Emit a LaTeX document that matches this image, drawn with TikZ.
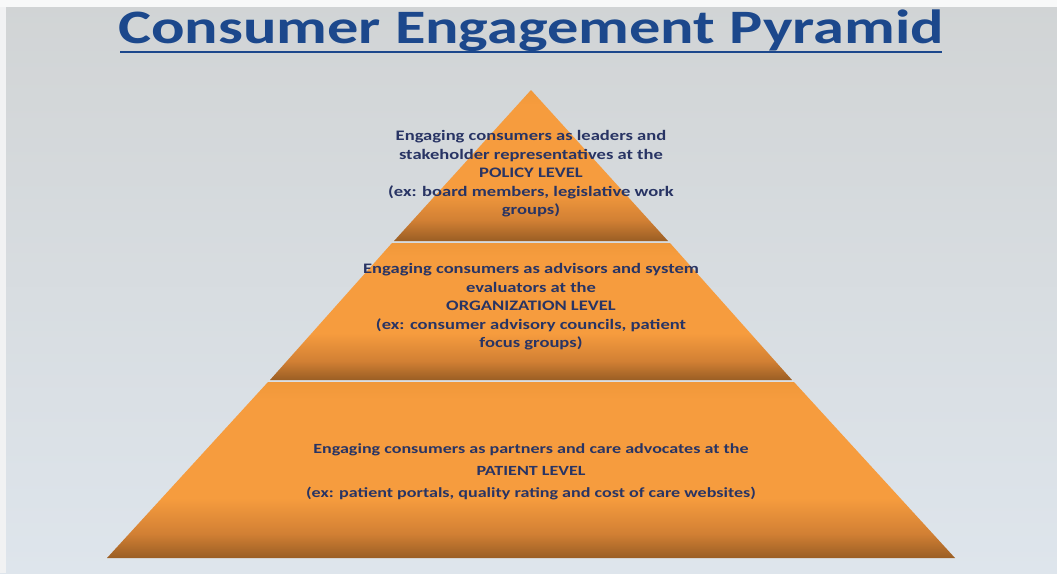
\documentclass[tikz,border=0pt]{standalone}
\usepackage{fontspec}
\setmainfont{Carlito}
\usetikzlibrary{shadings}
\definecolor{bgtop}{RGB}{209,212,213}
\definecolor{bgbot}{RGB}{222,229,236}
\definecolor{titleblue}{RGB}{28,72,140}
\definecolor{textnavy}{RGB}{40,52,100}
\definecolor{tierlight}{RGB}{246,156,62}
\definecolor{tiertop}{RGB}{240,152,58}
\definecolor{tiermid}{RGB}{210,128,52}
\definecolor{tierdark}{RGB}{154,94,36}
\pgfdeclareverticalshading{tiershade}{100bp}{color(0bp)=(tierdark); color(25bp)=(tierdark); color(32bp)=(tiermid); color(42bp)=(tierlight); color(70bp)=(tierlight); color(75bp)=(tiertop); color(100bp)=(tiertop)}
\tikzset{
  tier/.style={shading=tiershade},
  tiertext/.style={text=textnavy, align=center, font=\fontsize{14.5}{18.5}\selectfont\bfseries, inner sep=0pt, xscale=1.28},
  basetext/.style={text=textnavy, align=center, font=\fontsize{14}{22}\selectfont\bfseries, inner sep=0pt, xscale=1.29},
}
\begin{document}
\begin{tikzpicture}[x=1pt,y=-1pt]
\useasboundingbox (0,0) rectangle (1057,573);
\shade[top color=bgtop, bottom color=bgbot] (0,0) rectangle (1057,573);
\fill[white!85!bgtop] (0,0) rectangle (1057,7);
\fill[white!70!bgtop] (0,7) rectangle (6,573);
% title
\node[text=titleblue, font=\fontsize{48}{54}\selectfont\bfseries, anchor=base, inner sep=0pt, xscale=1.30] (title) at (531,43) {Consumer Engagement Pyramid};
\draw[titleblue, line width=2pt] (120,52) -- (942,52);
% tiers
\shade[tier] (531,90) -- (668,241) -- (394,241) -- cycle;
\shade[tier] (392,243) -- (670,243) -- (792,380) -- (270,380) -- cycle;
\shade[tier] (268,382) -- (794,382) -- (955,558) -- (107,558) -- cycle;
% texts
\node[tiertext] (policy) at (531,174) {Engaging consumers as leaders and\\ stakeholder representatives at the\\ POLICY LEVEL\\ (ex: board members, legislative work\\ groups)};
\node[tiertext] (org) at (531,307) {Engaging consumers as advisors and system\\ evaluators at the\\ ORGANIZATION LEVEL\\ (ex: consumer advisory councils, patient\\ focus groups)};
\node[basetext] (patient) at (531,472) {Engaging consumers as partners and care advocates at the\\ PATIENT LEVEL\\ (ex: patient portals, quality rating and cost of care websites)};
\end{tikzpicture}
\end{document}
